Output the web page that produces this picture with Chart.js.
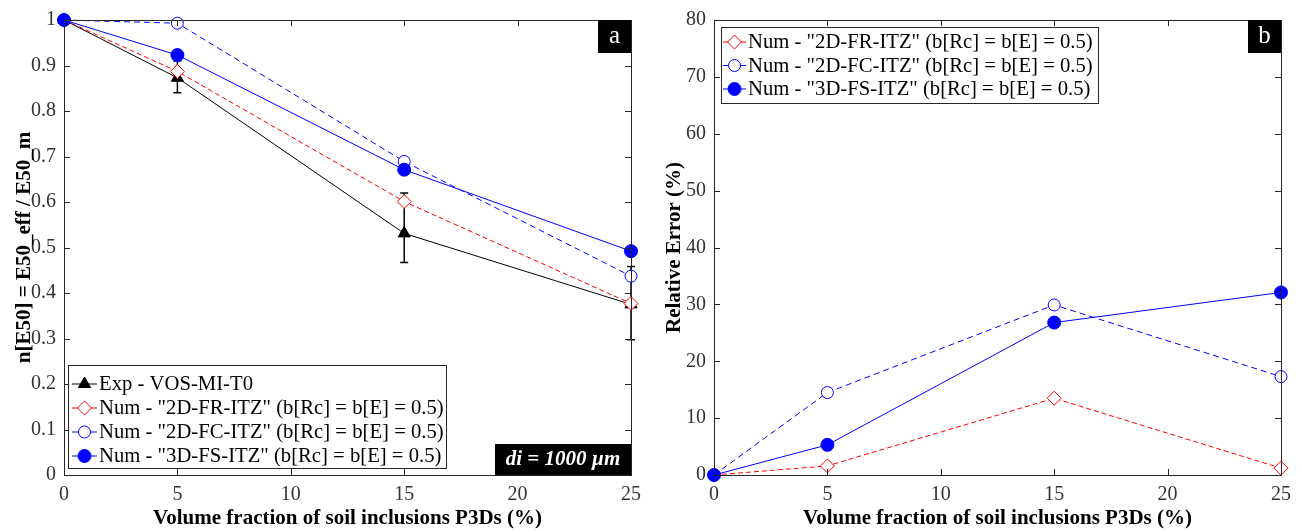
<!DOCTYPE html>
<html>
<head>
<meta charset="utf-8">
<script src="https://cdn.jsdelivr.net/npm/chart.js@4"></script>
<style>
  body { margin: 0; background: #fff; width: 1302px; height: 531px; position: relative; overflow: hidden; }
  canvas { position: absolute; top: 0; }
</style>
</head>
<body>
<canvas id="chartA" width="650" height="531" style="left:0"></canvas>
<canvas id="chartB" width="652" height="531" style="left:650px"></canvas>
<script>
// x values (volume fraction, %)
const volumeFraction = [0, 5, 15, 25];

// panel a: normalised E50
const expVosMiT0 = [1, 0.873, 0.531, 0.375];
const expErrLow = [1, 0.84, 0.467, 0.297];
const expErrHigh = [1, 0.91, 0.62, 0.458];
const num2dFr = [1, 0.887, 0.601, 0.377];
const num2dFc = [1, 0.993, 0.689, 0.437];
const num3dFs = [1, 0.923, 0.671, 0.492];

// panel b: relative error (%)
const relErr2dFr = [0, 1.6, 13.5, 1.2];
const relErr2dFc = [0, 14.5, 29.9, 17.3];
const relErr3dFs = [0, 5.3, 26.8, 32.1];

const xTicks = [0, 5, 10, 15, 20, 25];
const yTicksA = [0, 0.1, 0.2, 0.3, 0.4, 0.5, 0.6, 0.7, 0.8, 0.9, 1];
const yTicksB = [0, 10, 20, 30, 40, 50, 60, 70, 80];

const labelExp = 'Exp - VOS-MI-T0';
const labelFr = 'Num - "2D-FR-ITZ" (b[Rc] = b[E] = 0.5)';
const labelFc = 'Num - "2D-FC-ITZ" (b[Rc] = b[E] = 0.5)';
const labelFs = 'Num - "3D-FS-ITZ" (b[Rc] = b[E] = 0.5)';

const SERIF = '"Liberation Serif", "DejaVu Serif", serif';
const toPts = ys => ys.map((y, i) => ({ x: volumeFraction[i], y }));

const styles = {
  exp: { borderColor: '#000', backgroundColor: '#000', pointStyle: 'triangle', pointRadius: 7, borderDash: [] },
  fr: { borderColor: '#ff0000', backgroundColor: '#fff', pointStyle: 'rectRot', pointRadius: 7, borderDash: [5, 3] },
  fc: { borderColor: '#0000ff', backgroundColor: '#fff', pointStyle: 'circle', pointRadius: 6, borderDash: [6, 4] },
  fs: { borderColor: '#0000ff', backgroundColor: '#0000ff', pointStyle: 'circle', pointRadius: 6.5, borderDash: [] }
};

function ds(label, ys, st, order) {
  return {
    label, data: toPts(ys), order,
    borderColor: st.borderColor, borderWidth: 1, borderDash: st.borderDash,
    pointStyle: st.pointStyle, pointRadius: st.pointRadius,
    pointBackgroundColor: st.backgroundColor, pointBorderColor: st.borderColor,
    pointBorderWidth: 1, tension: 0, fill: false, clip: false
  };
}

// frame, inner ticks, error bars, legend and tags
const panelPlugin = {
  id: 'panel',
  beforeDatasetsDraw(chart, args, opts) {
    if (!opts.errLow) return;
    const ctx = chart.ctx, x = chart.scales.x, y = chart.scales.y;
    ctx.save();
    ctx.strokeStyle = '#000';
    ctx.lineWidth = 1.5;
    volumeFraction.forEach((v, i) => {
      if (opts.errLow[i] === opts.errHigh[i]) return;
      const px = x.getPixelForValue(v);
      const y1 = y.getPixelForValue(opts.errLow[i]);
      const y2 = y.getPixelForValue(opts.errHigh[i]);
      ctx.beginPath();
      ctx.moveTo(px, y1); ctx.lineTo(px, y2);
      ctx.moveTo(px - 4, y1); ctx.lineTo(px + 4, y1);
      ctx.moveTo(px - 4, y2); ctx.lineTo(px + 4, y2);
      ctx.stroke();
    });
    ctx.restore();
  },
  afterDraw(chart, args, opts) {
    const ctx = chart.ctx, a = chart.chartArea;
    const x = chart.scales.x, y = chart.scales.y;
    ctx.save();
    // box
    ctx.strokeStyle = '#262626';
    ctx.lineWidth = 1;
    ctx.strokeRect(a.left + 0.5, a.top + 0.5, a.right - a.left, a.bottom - a.top);
    // inward ticks
    ctx.beginPath();
    xTicks.forEach(t => {
      const px = Math.round(x.getPixelForValue(t)) + 0.5;
      ctx.moveTo(px, a.bottom); ctx.lineTo(px, a.bottom - 6);
      ctx.moveTo(px, a.top); ctx.lineTo(px, a.top + 6);
    });
    opts.yTicks.forEach(t => {
      const py = Math.round(y.getPixelForValue(t)) + 0.5;
      ctx.moveTo(a.left, py); ctx.lineTo(a.left + 6, py);
      ctx.moveTo(a.right, py); ctx.lineTo(a.right - 6, py);
    });
    ctx.stroke();

    // axis titles
    ctx.fillStyle = '#000';
    ctx.font = 'bold 21px ' + SERIF;
    ctx.textAlign = 'center';
    ctx.textBaseline = 'middle';
    ctx.fillText('Volume fraction of soil inclusions P3Ds (%)', (a.left + a.right) / 2, 519);
    ctx.save();
    ctx.translate(25, (a.top + a.bottom) / 2);
    ctx.rotate(-Math.PI / 2);
    ctx.fillText(opts.yTitle, 0, 0);
    ctx.restore();

    // legend
    const lg = opts.legend;
    ctx.fillStyle = '#fff';
    ctx.fillRect(lg.left, lg.top, lg.width, lg.height);
    ctx.strokeStyle = '#262626';
    ctx.lineWidth = 1;
    ctx.strokeRect(lg.left + 0.5, lg.top + 0.5, lg.width, lg.height);
    ctx.font = '20.7px ' + SERIF;
    ctx.textAlign = 'left';
    lg.items.forEach((it, i) => {
      const cy = lg.firstRow + i * lg.rowGap;
      const st = it.st;
      ctx.strokeStyle = st.borderColor;
      ctx.lineWidth = 1;
      ctx.setLineDash([]);
      ctx.beginPath();
      ctx.moveTo(lg.lineX0, cy); ctx.lineTo(lg.lineX1, cy);
      ctx.stroke();
      ctx.fillStyle = st.backgroundColor;
      Chart.helpers.drawPoint(ctx, { pointStyle: st.pointStyle, radius: st.pointRadius, borderWidth: 1, rotation: 0 },
        (lg.lineX0 + lg.lineX1) / 2, cy);
      ctx.fillStyle = '#000';
      ctx.fillText(it.text, lg.lineX1 + 2, cy + 1);
    });

    // panel tag
    ctx.fillStyle = '#000';
    ctx.fillRect(a.right - 33, a.top, 33, 33);
    ctx.fillStyle = '#fff';
    ctx.font = '25px ' + SERIF;
    ctx.textAlign = 'center';
    ctx.fillText(opts.tag, a.right - 16.5, a.top + 16);

    if (opts.note) {
      ctx.fillStyle = '#000';
      ctx.fillRect(a.right - 136, a.bottom - 31, 136, 31);
      ctx.fillStyle = '#fff';
      ctx.font = 'italic bold 21px ' + SERIF;
      ctx.fillText(opts.note, a.right - 68, a.bottom - 15);
    }
    ctx.restore();
  }
};

function makeChart(id, datasets, yMax, padRight, panelOpts) {
  return new Chart(document.getElementById(id), {
    type: 'line',
    data: { datasets },
    plugins: [panelPlugin],
    options: {
      responsive: false,
      animation: false,
      layout: { padding: { top: 20, right: padRight, left: 0, bottom: 0 } },
      plugins: { legend: { display: false }, tooltip: { enabled: false }, panel: panelOpts },
      scales: {
        x: {
          type: 'linear', min: 0, max: 25,
          grid: { display: false, drawTicks: false, tickLength: 0 }, border: { display: false },
          afterFit: s => { s.height = 56; },
          afterBuildTicks: s => { s.ticks = xTicks.map(v => ({ value: v })); },
          ticks: { padding: 8, color: '#333', maxRotation: 0, font: { family: SERIF, size: 20 } }
        },
        y: {
          min: 0, max: yMax,
          grid: { display: false, drawTicks: false, tickLength: 0 }, border: { display: false },
          afterFit: s => { s.width = 64; },
          afterBuildTicks: s => { s.ticks = panelOpts.yTicks.map(v => ({ value: v })); },
          ticks: { padding: 8, color: '#333', font: { family: SERIF, size: 20 },
            callback: v => String(Math.round(v * 10) / 10) }
        }
      }
    }
  });
}

makeChart('chartA', [
  ds(labelExp, expVosMiT0, styles.exp, 3),
  ds(labelFr, num2dFr, styles.fr, 2),
  ds(labelFc, num2dFc, styles.fc, 1),
  ds(labelFs, num3dFs, styles.fs, 0)
], 1, 19, {
  yTicks: yTicksA,
  errLow: expErrLow, errHigh: expErrHigh,
  yTitle: 'n[E50] = E50_eff / E50_m',
  tag: 'a',
  note: 'di = 1000 \u00b5m',
  legend: {
    left: 68, top: 365, width: 378, height: 103,
    firstRow: 384, rowGap: 24, lineX0: 72, lineX1: 97,
    items: [
      { text: labelExp, st: styles.exp },
      { text: labelFr, st: styles.fr },
      { text: labelFc, st: styles.fc },
      { text: labelFs, st: styles.fs }
    ]
  }
});

makeChart('chartB', [
  ds(labelFr, relErr2dFr, styles.fr, 2),
  ds(labelFc, relErr2dFc, styles.fc, 1),
  ds(labelFs, relErr3dFs, styles.fs, 0)
], 80, 21, {
  yTicks: yTicksB,
  yTitle: 'Relative Error (%)',
  tag: 'b',
  legend: {
    left: 71, top: 27, width: 377, height: 76,
    firstRow: 42, rowGap: 23.5, lineX0: 73, lineX1: 96,
    items: [
      { text: labelFr, st: styles.fr },
      { text: labelFc, st: styles.fc },
      { text: labelFs, st: styles.fs }
    ]
  }
});
</script>
</body>
</html>
